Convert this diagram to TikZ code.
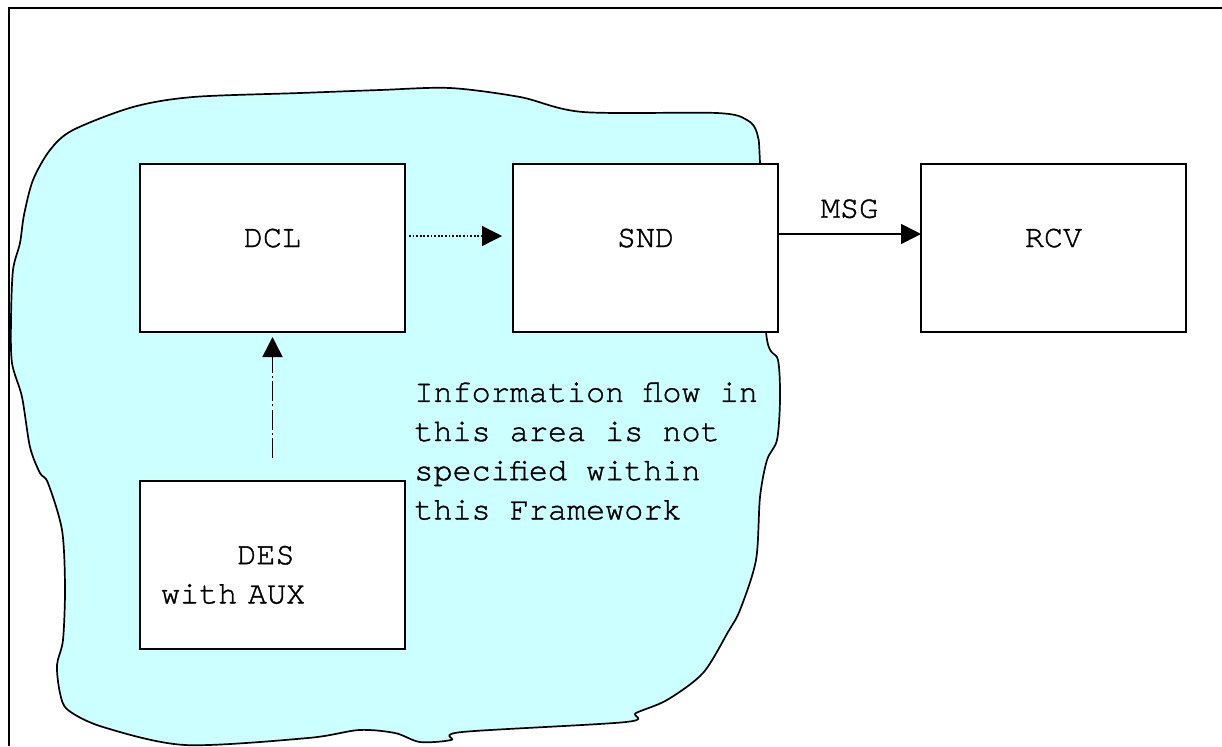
\documentclass[tikz,border=0pt]{standalone}
\usepackage{fontspec}
\setmonofont[FakeBold=1.2]{TeX Gyre Cursor}
\usepackage{xcolor}
\usepackage{tikz}
\usetikzlibrary{arrows.meta,positioning,calc}

\definecolor{areafill}{HTML}{CCFFFF}
\newcommand{\diagfont}{\ttfamily\fontsize{15.9}{19.6}\selectfont}

\begin{document}
\begin{tikzpicture}[
    x=0.5pt, y=-0.5pt,
    block/.style={rectangle, draw, fill=white, line width=0.85pt, font=\diagfont,
        minimum width=132.5pt, minimum height=84pt, inner sep=0pt, outer sep=0pt,
        text height=9pt, text depth=10pt},
    txt/.style={font=\diagfont, inner sep=0pt},
    area/.style={draw, fill=areafill, line width=0.85pt},
    frame/.style={line width=1.2pt},
    arrow/.style={-{Triangle[length=10pt, width=10pt]}, line width=0.8pt},
    flowdot/.style={arrow, line width=0.6pt, dash pattern=on 0.9pt off 0.9pt},
    flowdash/.style={arrow, dash pattern=on 10pt off 1.6pt on 1pt off 1.6pt}
]
    \useasboundingbox (0,0) rectangle (1222,746);

    % Page frame (top and left edges)
    \draw[frame] (1222,8) -| (9,746);

    % Unspecified area
    \draw[area] plot[smooth cycle, tension=0.5] coordinates {
        (24,215) (33,180) (50,150) (73,130) (133,107) (193,97) (300,93)
        (380,90) (450,88) (520,97) (583,112) (717,113) (747,120) (757,133)
        (760,163) (766,332) (778,360) (780,400) (777,440) (767,460) (760,497)
        (756,560) (740,610) (728,632) (703,673) (667,700) (636,713) (626,722)
        (462,732) (451,740) (420,742) (395,733) (359,730) (308,738) (185,745)
        (103,727) (68,710) (60,693) (57,665) (63,640) (65,587) (62,530)
        (48,483) (40,473) (30,447) (22,397) (12,363) (11,320) (13,270) (20,243)};

    % Boxes
    \node[block] (dcl) at (272.5,248) {DCL};
    \node[block, right=54pt of dcl] (snd) {SND};
    \node[block, right=71.5pt of snd] (rcv) {RCV};
    \node[block, below=74.5pt of dcl, text width=111.5pt, align=left,
        text height=18.8pt, text depth=19.6pt] (des) {\phantom{with}DES\\with AUX};

    % Note
    \node[txt, align=left, anchor=north west] (note) at (414,382)
        {Information flow in\\this area is not\\specified within\\this Framework};

    % Arrows
    \draw[flowdot] ([xshift=2pt, yshift=6pt]dcl.east) -- ([xshift=-5.5pt, yshift=6pt]snd.west);
    \draw[arrow] ([yshift=7pt]snd.east) -- node[txt, above=7.5pt] (msg) {MSG} ([yshift=7pt]rcv.west);
    \draw[flowdash] ([yshift=11.5pt]des.north) -- ([yshift=-2.5pt]dcl.south);
\end{tikzpicture}
\end{document}
